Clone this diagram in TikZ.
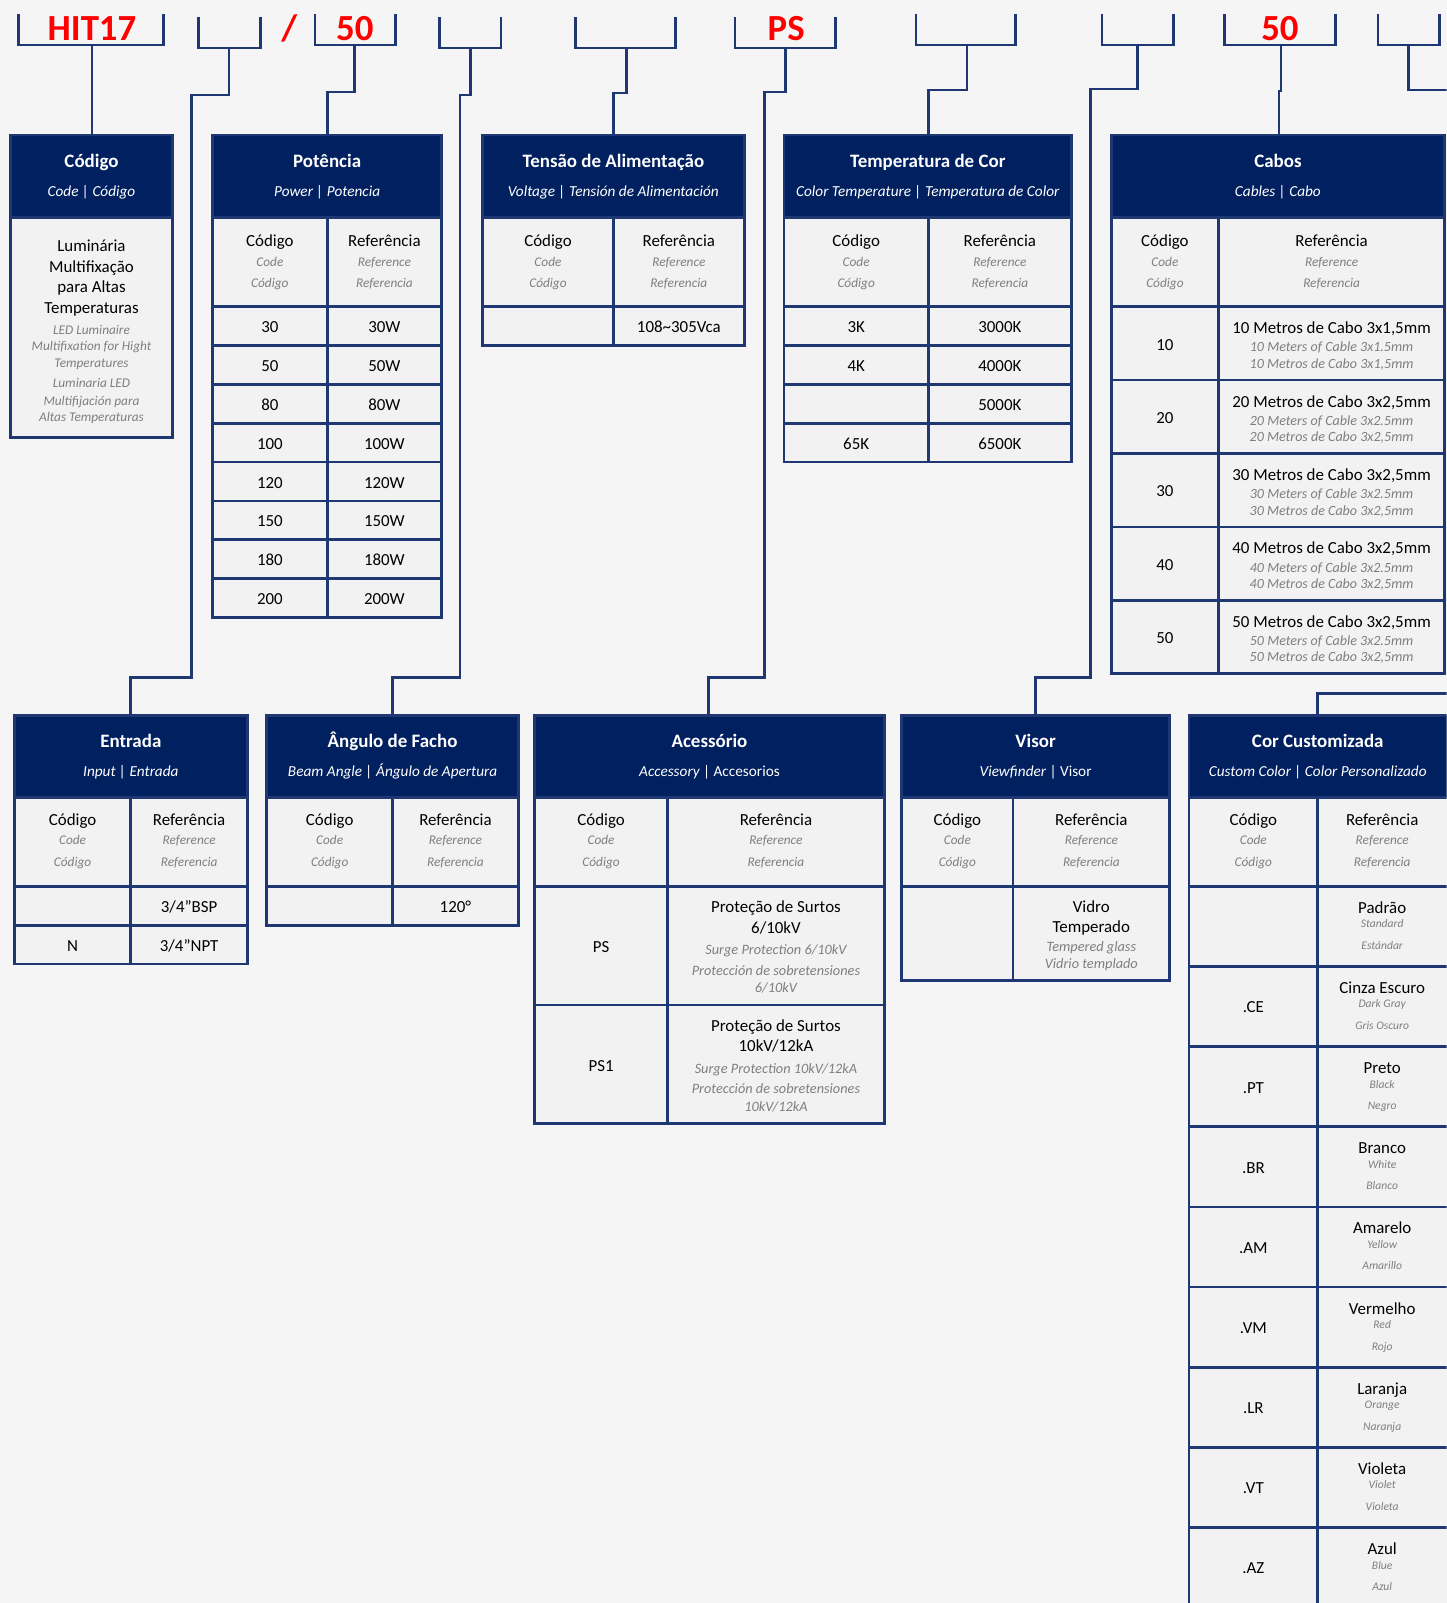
\documentclass[tikz,border=0pt]{standalone}
\usepackage{fontspec}
\setmainfont{Carlito}
\definecolor{hdc}{RGB}{0,32,96}
\definecolor{lnc}{RGB}{31,56,115}
\definecolor{cellc}{HTML}{F2F2F2}
\definecolor{bgc}{HTML}{F5F5F5}
\definecolor{gtc}{HTML}{7F7F7F}
\definecolor{rdc}{HTML}{FF0000}
\tikzset{
  conn/.style={draw=lnc, line width=2pt, line join=miter},
  bord/.style={draw=lnc, line width=2pt},
  redt/.style={font=\fontsize{27}{27}\selectfont\bfseries, text=rdc, anchor=base, inner sep=0pt},
  ttl/.style={font=\fontsize{13.9}{16}\selectfont\bfseries, text=white, anchor=base, inner sep=0pt, yshift=-5.1pt},
  sbt/.style={font=\fontsize{11.2}{13}\selectfont\itshape, text=white, anchor=base, inner sep=0pt, yshift=-4.6pt},
  mt/.style={font=\fontsize{12.4}{15}\selectfont, text=black, anchor=base, inner sep=0pt, yshift=-4.8pt},
  gt/.style={font=\fontsize{9.75}{12}\selectfont\itshape, text=gtc, anchor=base, inner sep=0pt, yshift=-3.9pt},
  gtc/.style={font=\fontsize{10.3}{12}\selectfont\itshape, text=gtc, anchor=base, inner sep=0pt, yshift=-3.9pt},
  gtb/.style={font=\fontsize{10.5}{12}\selectfont\itshape, text=gtc, anchor=base, inner sep=0pt, yshift=-4.1pt},
  gts/.style={font=\fontsize{8.5}{10}\selectfont\itshape, text=gtc, anchor=base, inner sep=0pt, yshift=-3.4pt}
}
% x1 x2 xdiv ytop yhead ysub ybot
\newcommand\skel[7]{%
  \fill[cellc] (#1,#4) rectangle (#2,#7);
  \fill[hdc] (#1,#4) rectangle (#2,#5);
  \draw[bord] (#1,#5) -- (#2,#5);
  \draw[bord] (#3,#5) -- (#3,#7);
  \draw[bord] (#1,#6) -- (#2,#6);
  \draw[bord] (#1,#4) rectangle (#2,#7);
}
% name x y title subtitle
\newcommand\hdr[5]{%
  \node[ttl] (#1t) at (#2,#3) {#4};
  \node[sbt] (#1s) at (#2,{#3+29}) {#5};
}
% name xleft xright y
\newcommand\subhdr[4]{%
  \node[mt] (#1a) at (#2,#4) {Código};
  \node[gt] (#1b) at (#2,{#4+20}) {Code};
  \node[gt] (#1c) at (#2,{#4+41}) {Código};
  \node[mt] (#1d) at (#3,#4) {Referência};
  \node[gt] (#1e) at (#3,{#4+20}) {Reference};
  \node[gt] (#1f) at (#3,{#4+41}) {Referencia};
}
\newcommand\cabrow[6]{%
  \node[mt] (#1c) at (1139.5,{#2+36}) {#3};
  \node[mt] (#1m) at (1302.5,{#2+20}) {#4};
  \node[gtc] (#1g) at (1302.5,{#2+39}) {#5};
  \node[gtc] (#1h) at (1302.5,{#2+55}) {#6};
}
\newcommand\corrow[6]{%
  \node[mt] (#1c) at (1226,{#2+39}) {#3};
  \node[mt] (#1m) at (1352,{#2+20}) {#4};
  \node[gts] (#1g) at (1352,{#2+36}) {#5};
  \node[gts] (#1h) at (1352,{#2+57}) {#6};
}
\begin{document}
\begin{tikzpicture}[x=0.75pt,y=-0.75pt]
\useasboundingbox (0,0) rectangle (1415,1568);
\fill[bgc] (0,0) rectangle (1415,1568);
\clip (0,0) rectangle (1415,1568);

% ---------- top code brackets ----------
\draw[conn] (18,14) |- (160,44) -- (160,14);
\draw[conn] (194,17) |- (255,47) -- (255,17);
\draw[conn] (308,14) |- (387,44) -- (387,14);
\draw[conn] (430,17) |- (490,47) -- (490,17);
\draw[conn] (563,17) |- (661,47) -- (661,17);
\draw[conn] (719,17) |- (817,47) -- (817,17);
\draw[conn] (896,14) |- (993,44) -- (993,14);
\draw[conn] (1078,14) |- (1148,44) -- (1148,14);
\draw[conn] (1198,14) |- (1306,44) -- (1306,14);
\draw[conn] (1348,14) |- (1408,44) -- (1408,14);

\node[redt] (r1) at (90,39.5) {HIT17};
\node[redt] (r2) at (283,39.5) {/};
\node[redt] (r3) at (347,39.5) {50};
\node[redt] (r4) at (769,39.5) {PS};
\node[redt] (r5) at (1252,39.5) {50};

% stems and box tops
\coordinate (s1) at (90,44);   \coordinate (codtop) at (90,132);
\coordinate (s2) at (224,47);  \coordinate (entop) at (128,700);
\coordinate (s3) at (347,44);  \coordinate (pottop) at (320,132);
\coordinate (s4) at (460,47);  \coordinate (angtop) at (384,700);
\coordinate (s5) at (613,47);  \coordinate (tentop) at (600,132);
\coordinate (s6) at (768,47);  \coordinate (acetop) at (693,700);
\coordinate (s7) at (946,44);  \coordinate (temtop) at (908,132);
\coordinate (s8) at (1113,44); \coordinate (vistop) at (1013,700);
\coordinate (s9) at (1253,44); \coordinate (cabtop) at (1251,132);
\coordinate (s10) at (1378,44); \coordinate (s10e) at (1425,88);
\coordinate (c11e) at (1425,678); \coordinate (cortop) at (1289,700);

\draw[conn] (s1) -- (codtop);
\draw[conn] (s2) |- (187,93) -- (187,663) -| (entop);
\draw[conn] (s3) |- (320,90) -- (pottop);
\draw[conn] (s4) |- (450,93) -- (450,663) -| (angtop);
\draw[conn] (s5) |- (600,91) -- (tentop);
\draw[conn] (s6) |- (748,90) -- (748,663) -| (acetop);
\draw[conn] (s7) |- (908,88) -- (temtop);
\draw[conn] (s8) |- (1067,87) -- (1067,663) -| (vistop);
\draw[conn] (s9) |- (1251,89) -- (cabtop);
\draw[conn] (s10) |- (s10e);
\draw[conn] (c11e) -| (cortop);

% ---------- Código ----------
\fill[cellc] (10,132) rectangle (169,428);
\fill[hdc] (10,132) rectangle (169,213);
\draw[bord] (10,213) -- (169,213);
\draw[bord] (10,132) rectangle (169,428);
\hdr{cod}{89.5}{157}{Código}{Code | Código}
\node[mt] (cod1) at (89.5,240) {Luminária};
\node[mt] (cod2) at (89.5,260) {Multifixação};
\node[mt] (cod3) at (89.5,280) {para Altas};
\node[mt] (cod4) at (89.5,300) {Temperaturas};
\node[gt] (cod5) at (89.5,322) {LED Luminaire};
\node[gt] (cod6) at (89.5,338) {Multifixation for Hight};
\node[gt] (cod7) at (89.5,354) {Temperatures};
\node[gt] (cod8) at (89.5,374) {Luminaria LED};
\node[gt] (cod9) at (89.5,391) {Multifijación para};
\node[gt] (cod10) at (89.5,407) {Altas Temperaturas};

% ---------- Potência ----------
\skel{208}{432}{320}{132}{213}{300}{604}
\foreach \y in {338,376,414,452,490,528,566} \draw[bord] (208,\y) -- (432,\y);
\hdr{pot}{320}{157}{Potência}{Power | Potencia}
\subhdr{potsh}{264}{376}{235}
\foreach \v [count=\i from 0] in {30,50,80,100,120,150,180,200}{
  \node[mt] (pc\i) at (264,{319+38*\i}) {\v};
  \node[mt] (pr\i) at (376,{319+38*\i}) {\v W};
}

% ---------- Tensão ----------
\skel{472}{728}{600}{132}{213}{300}{338}
\hdr{ten}{600}{157}{Tensão de Alimentação}{Voltage | Tensión de Alimentación}
\subhdr{tensh}{536}{664}{235}
\node[mt] (ten1) at (664,319) {108\textasciitilde 305Vca};

% ---------- Temperatura de Cor ----------
\skel{767}{1048}{908}{132}{213}{300}{452}
\foreach \y in {338,376,414} \draw[bord] (767,\y) -- (1048,\y);
\hdr{tem}{907.5}{157}{Temperatura de Cor}{Color Temperature | Temperatura de Color}
\subhdr{temsh}{837.5}{978}{235}
\node[mt] (tem1c) at (837.5,319) {3K};
\node[mt] (tem1r) at (978,319) {3000K};
\node[mt] (tem2c) at (837.5,357) {4K};
\node[mt] (tem2r) at (978,357) {4000K};
\node[mt] (tem3r) at (978,395) {5000K};
\node[mt] (tem4c) at (837.5,433) {65K};
\node[mt] (tem4r) at (978,433) {6500K};

% ---------- Cabos ----------
\skel{1087}{1413}{1192}{132}{213}{300}{659}
\foreach \y in {371.8,443.6,515.4,587.2} \draw[bord] (1087,\y) -- (1413,\y);
\hdr{cab}{1250}{157}{Cabos}{Cables | Cabo}
\subhdr{cabsh}{1139.5}{1302.5}{235}
\cabrow{cb1}{300}{10}{10 Metros de Cabo 3x1,5mm}{10 Meters of Cable 3x1.5mm}{10 Metros de Cabo 3x1,5mm}
\cabrow{cb2}{371.8}{20}{20 Metros de Cabo 3x2,5mm}{20 Meters of Cable 3x2.5mm}{20 Metros de Cabo 3x2,5mm}
\cabrow{cb3}{443.6}{30}{30 Metros de Cabo 3x2,5mm}{30 Meters of Cable 3x2.5mm}{30 Metros de Cabo 3x2,5mm}
\cabrow{cb4}{515.4}{40}{40 Metros de Cabo 3x2,5mm}{40 Meters of Cable 3x2.5mm}{40 Metros de Cabo 3x2,5mm}
\cabrow{cb5}{587.2}{50}{50 Metros de Cabo 3x2,5mm}{50 Meters of Cable 3x2.5mm}{50 Metros de Cabo 3x2,5mm}

% ---------- Entrada ----------
\skel{14}{242}{128}{700}{780}{867}{943}
\draw[bord] (14,905) -- (242,905);
\hdr{ent}{128}{724}{Entrada}{Input | Entrada}
\subhdr{entsh}{71}{185}{801}
\node[mt] (ent1r) at (185,886) {3/4”BSP};
\node[mt] (ent2c) at (71,924) {N};
\node[mt] (ent2r) at (185,924) {3/4”NPT};

% ---------- Ângulo de Facho ----------
\skel{261}{507}{384}{700}{780}{867}{905}
\hdr{ang}{384}{724}{Ângulo de Facho}{Beam Angle | Ángulo de Apertura}
\subhdr{angsh}{322.5}{445.5}{801}
\node[mt] (ang1r) at (445.5,886) {120°};

% ---------- Acessório ----------
\skel{523}{865}{653}{700}{780}{867}{1099}
\draw[bord] (523,983) -- (865,983);
\hdr{ace}{694}{724}{Acessório}{Accessory {\upshape | Accesorios}}
\subhdr{acesh}{588}{759}{801}
\node[mt] (ace1c) at (588,925.5) {PS};
\node[mt] (ace1a) at (759,886) {Proteção de Surtos};
\node[mt] (ace1b) at (759,906.5) {6/10kV};
\node[gtb] (ace1d) at (759,928) {Surge Protection 6/10kV};
\node[gtb] (ace1e) at (759,948.5) {Protección de sobretensiones};
\node[gtb] (ace1f) at (759,965) {6/10kV};
\node[mt] (ace2c) at (588,1041.5) {PS1};
\node[mt] (ace2a) at (759,1003) {Proteção de Surtos};
\node[mt] (ace2b) at (759,1022.5) {10kV/12kA};
\node[gtb] (ace2d) at (759,1044.5) {Surge Protection 10kV/12kA};
\node[gtb] (ace2e) at (759,1064) {Protección de sobretensiones};
\node[gtb] (ace2f) at (759,1081.5) {10kV/12kA};

% ---------- Visor ----------
\skel{882}{1144}{991}{700}{780}{867}{959}
\hdr{vis}{1013}{724}{Visor}{Viewfinder {\upshape | Visor}}
\subhdr{vissh}{936.5}{1067.5}{801}
\node[mt] (vis1) at (1067.5,886) {Vidro};
\node[mt] (vis2) at (1067.5,906) {Temperado};
\node[gtb] (vis3) at (1067.5,925) {Tempered glass};
\node[gtb] (vis4) at (1067.5,942) {Vidrio templado};

% ---------- Cor Customizada ----------
\skel{1163}{1418}{1289}{700}{780}{867}{1574}
\foreach \y in {945.4,1023.8,1102.2,1180.6,1259,1337.4,1415.8,1494.2} \draw[bord] (1163,\y) -- (1418,\y);
\hdr{cor}{1289}{724}{Cor Customizada}{Custom Color | Color Personalizado}
\subhdr{corsh}{1226}{1352}{801}
\corrow{cr0}{867}{}{Padrão}{Standard}{Estándar}
\corrow{cr1}{945.4}{.CE}{Cinza Escuro}{Dark Gray}{Gris Oscuro}
\corrow{cr2}{1023.8}{.PT}{Preto}{Black}{Negro}
\corrow{cr3}{1102.2}{.BR}{Branco}{White}{Blanco}
\corrow{cr4}{1180.6}{.AM}{Amarelo}{Yellow}{Amarillo}
\corrow{cr5}{1259}{.VM}{Vermelho}{Red}{Rojo}
\corrow{cr6}{1337.4}{.LR}{Laranja}{Orange}{Naranja}
\corrow{cr7}{1415.8}{.VT}{Violeta}{Violet}{Violeta}
\corrow{cr8}{1494.2}{.AZ}{Azul}{Blue}{Azul}
\end{tikzpicture}
\end{document}
